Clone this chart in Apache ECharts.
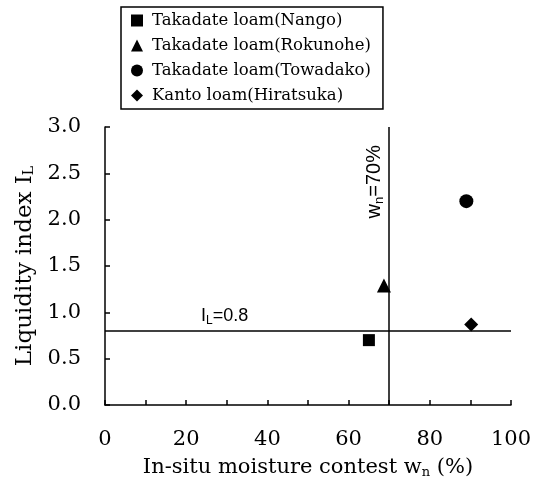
<!DOCTYPE html>
<html>
<head>
<meta charset="utf-8">
<script src="https://cdn.jsdelivr.net/npm/echarts@6/dist/echarts.min.js"></script>
<style>
    html, body { margin: 0; padding: 0; background: #fff; }
    .EC { width: 540px; height: 496px; }
</style>
</head>
<body>
<div class="EC"></div>
<script>
// Soil samples
const sampleNames = [
    'Takadate loam(Nango)',
    'Takadate loam(Rokunohe)',
    'Takadate loam(Towadako)',
    'Kanto loam(Hiratsuka)'
]
const sampleSymbols = ['rect', 'triangle', 'circle', 'diamond']
const sampleSizes = [12, 14, 14, 14]
// In-situ moisture content wn (%)
const moisture = [65, 68.7, 89, 90.2]
// Liquidity index IL
const liquidity = [0.70, 1.29, 2.20, 0.87]
// Reference lines
const wnLimit = 70
const ilLimit = 0.8

window.onload = () => {
    let EC = echarts.init(document.querySelector('.EC'))
    const serif = 'DejaVu Serif'
    const sans = 'Liberation Sans'

    let series = sampleNames.map((name, i) => ({
        name: name,
        type: 'scatter',
        symbol: sampleSymbols[i],
        symbolSize: sampleSizes[i],
        itemStyle: { color: '#000', opacity: 1 },
        data: [[moisture[i], liquidity[i]]]
    }))

    // subscript text for labels
    const subRich = (size, pad) => ({
        a: { fontFamily: sans, fontSize: size, color: '#000' },
        s: { fontFamily: sans, fontSize: Math.round(size * 0.65), color: '#000', verticalAlign: 'bottom', padding: [pad, 0, 0, 0] }
    })

    // w_n = 70% and I_L = 0.8 lines
    series[0].markLine = {
        silent: true,
        symbol: 'none',
        animation: false,
        lineStyle: { color: '#000', width: 1.5, type: 'solid' },
        data: [
            {
                xAxis: wnLimit,
                label: {
                    position: 'insideEndTop',
                    distance: [18, 3],
                    formatter: '{a|w}{s|n}{a|=70%}',
                    rich: subRich(20, 10)
                }
            },
            {
                yAxis: ilLimit,
                label: {
                    position: 'insideStartTop',
                    distance: 4,
                    padding: [0, 0, 0, 92],
                    formatter: '{a|I}{s|L}{a|=0.8}',
                    rich: subRich(18, 9)
                }
            }
        ]
    }

    let option = {
        backgroundColor: '#fff',
        animation: false,
        textStyle: { fontFamily: serif, color: '#000' },
        legend: {
            orient: 'vertical',
            left: 121,
            top: 7,
            data: sampleNames,
            itemWidth: 12,
            itemHeight: 12,
            itemGap: 8,
            padding: [5, 12, 5, 10],
            borderColor: '#000',
            borderWidth: 1.5,
            itemStyle: { opacity: 1 },
            textStyle: { fontFamily: serif, fontSize: 16.5, color: '#000', padding: [0, 0, 0, 4] }
        },
        grid: {
            left: 105,
            right: 29,
            top: 127,
            bottom: 91
        },
        xAxis: {
            type: 'value',
            min: 0,
            max: 100,
            interval: 20,
            name: '{a|In-situ moisture contest w}{s|n}{a| (%)}',
            nameLocation: 'middle',
            nameGap: 52,
            nameTextStyle: {
                rich: {
                    a: { fontFamily: serif, fontSize: 21, color: '#000' },
                    s: { fontFamily: serif, fontSize: 13, color: '#000', verticalAlign: 'bottom', padding: [9, 0, 0, 0] }
                }
            },
            axisLine: { lineStyle: { color: '#000', width: 1.5 } },
            axisTick: { inside: true, length: 5, lineStyle: { color: '#000', width: 1.5 } },
            minorTick: { show: true, splitNumber: 2, length: 5, lineStyle: { color: '#000', width: 1.5 } },
            axisLabel: { fontFamily: serif, fontSize: 21, color: '#000', margin: 24 },
            splitLine: { show: false }
        },
        yAxis: {
            type: 'value',
            min: 0,
            max: 3,
            interval: 0.5,
            name: '{a|Liquidity index I}{s|L}',
            nameLocation: 'middle',
            nameGap: 56,
            nameTextStyle: {
                rich: {
                    a: { fontFamily: serif, fontSize: 23, color: '#000' },
                    s: { fontFamily: serif, fontSize: 14, color: '#000', verticalAlign: 'bottom', padding: [10, 0, 0, 0] }
                }
            },
            axisLine: { show: true, lineStyle: { color: '#000', width: 1.5 } },
            axisTick: { show: true, inside: true, length: 5, lineStyle: { color: '#000', width: 1.5 } },
            axisLabel: {
                fontFamily: serif, fontSize: 21, color: '#000', margin: 24,
                formatter: v => v.toFixed(1)
            },
            splitLine: { show: false }
        },
        series: series
    }
    EC.setOption(option)
}
</script>
</body>
</html>
